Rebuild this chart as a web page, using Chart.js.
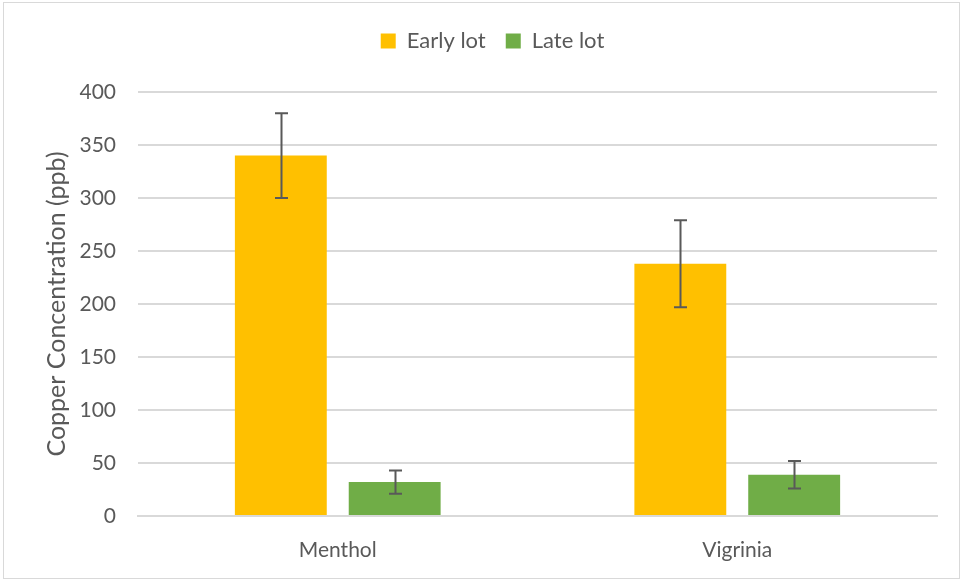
<!DOCTYPE html>
<html>
<head>
<meta charset="utf-8">
<script src="https://cdn.jsdelivr.net/npm/chart.js@4/dist/chart.umd.min.js"></script>
<style>
html,body{margin:0;padding:0;background:#fff;}
#wrap{width:961px;height:581px;position:relative;}
</style>
</head>
<body>
<div id="wrap"><canvas id="c" width="961" height="581"></canvas></div>
<script>
const categories = ['Menthol', 'Vigrinia'];
const seriesNames = ['Early lot', 'Late lot'];
const earlyValues = [340, 238];
const lateValues = [32, 39];
const earlyErrors = [40, 41];
const lateErrors = [11, 13];
const yTicks = [0, 50, 100, 150, 200, 250, 300, 350, 400];

const FONT = 'Lato';
const TEXT = '#595959';

const errorBars = {
  id: 'errorBars',
  afterDatasetsDraw(chart) {
    const ctx = chart.ctx;
    const y = chart.scales.y;
    const errs = [earlyErrors, lateErrors];
    ctx.save();
    ctx.strokeStyle = '#595959';
    ctx.lineWidth = 2;
    chart.data.datasets.forEach((ds, di) => {
      const meta = chart.getDatasetMeta(di);
      meta.data.forEach((bar, i) => {
        const v = ds.data[i], e = errs[di][i];
        const x = Math.round(bar.x) + 0.5;
        const yt = y.getPixelForValue(v + e);
        const yb = y.getPixelForValue(v - e);
        ctx.beginPath();
        ctx.moveTo(x, yt); ctx.lineTo(x, yb);
        ctx.moveTo(x - 6.5, yt); ctx.lineTo(x + 6.5, yt);
        ctx.moveTo(x - 6.5, yb); ctx.lineTo(x + 6.5, yb);
        ctx.stroke();
      });
    });
    ctx.restore();
  }
};

const frame = {
  id: 'frame',
  beforeUpdate(chart) {
    const lg = chart.legend;
    if (lg && !lg._extraPatched) {
      const fit = lg.fit.bind(lg);
      lg.fit = function () { fit(); this.height += 30; };
      const draw = lg.draw.bind(lg);
      lg.draw = function () {
        const ctx = chart.ctx;
        ctx.save();
        ctx.translate(24, 0);
        draw();
        ctx.restore();
      };
      lg._extraPatched = true;
    }
  },
  beforeDraw(chart) {
    const ctx = chart.ctx;
    ctx.save();
    ctx.fillStyle = '#fff';
    ctx.fillRect(0, 0, chart.width, chart.height);
    ctx.strokeStyle = '#d9d9d9';
    ctx.lineWidth = 1;
    ctx.strokeRect(3.5, 2.5, 956, 576);
    ctx.restore();
  }
};

new Chart(document.getElementById('c'), {
  type: 'bar',
  data: {
    labels: categories,
    datasets: [
      { label: seriesNames[0], data: earlyValues, backgroundColor: '#FFC000', borderWidth: 0 },
      { label: seriesNames[1], data: lateValues, backgroundColor: '#70AD47', borderWidth: 0 }
    ]
  },
  options: {
    responsive: false,
    animation: false,
    devicePixelRatio: 1,
    categoryPercentage: 0.57,
    barPercentage: 0.807,
    layout: { padding: { top: 10, right: 24, bottom: 0, left: 0 } },
    plugins: {
      tooltip: { enabled: false },
      legend: {
        position: 'top',
        labels: {
          font: { family: FONT, size: 22 },
          color: TEXT,
          boxWidth: 15,
          boxHeight: 15,
          padding: 20
        }
      }
    },
    scales: {
      x: {
        grid: { display: false, drawTicks: false },
        border: { display: true, color: '#d9d9d9', width: 2 },
        ticks: { font: { family: FONT, size: 21 }, color: TEXT, padding: 22 },
        afterFit(s) { s.height = 65; }
      },
      y: {
        min: 0, max: 400,
        afterBuildTicks(s) { s.ticks = yTicks.map(v => ({ value: v })); },
        grid: { color: '#d9d9d9', lineWidth: 2, drawTicks: false },
        border: { display: false },
        ticks: { font: { family: FONT, size: 21 }, color: TEXT, padding: 22 },
        title: {
          display: true,
          text: 'Copper Concentration (ppb)',
          font: { family: FONT, size: 25 },
          color: TEXT,
          padding: { top: 42, bottom: 0 }
        },
        afterFit(s) { s.width = 138; }
      }
    }
  },
  plugins: [frame, errorBars]
});
</script>
</body>
</html>
